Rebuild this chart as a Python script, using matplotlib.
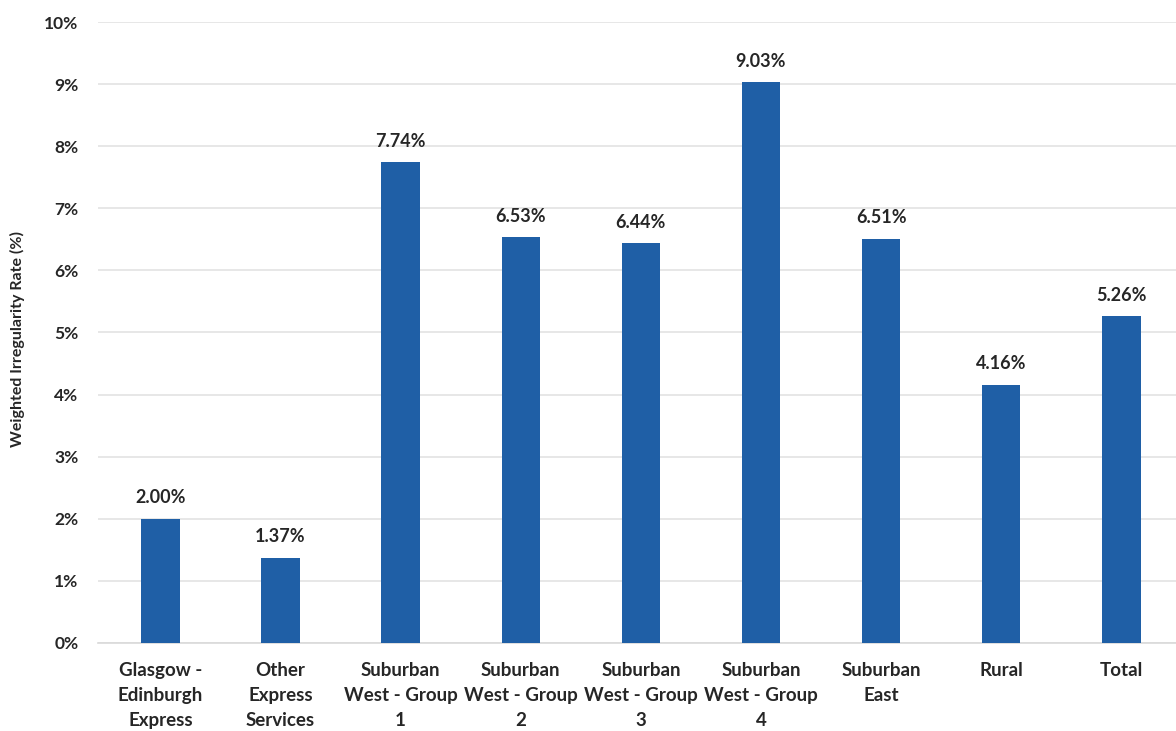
import matplotlib.pyplot as plt
from matplotlib.ticker import FuncFormatter

categories = [
    "Glasgow -\nEdinburgh\nExpress",
    "Other\nExpress\nServices",
    "Suburban\nWest - Group\n1",
    "Suburban\nWest - Group\n2",
    "Suburban\nWest - Group\n3",
    "Suburban\nWest - Group\n4",
    "Suburban\nEast",
    "Rural",
    "Total",
]
rates = [2.00, 1.37, 7.74, 6.53, 6.44, 9.03, 6.51, 4.16, 5.26]
yticks = list(range(0, 11))

plt.rcParams["font.family"] = ["Lato", "DejaVu Sans"]
plt.rcParams["font.weight"] = "bold"

fig = plt.figure(figsize=(11.76, 7.31), dpi=100)
ax = fig.add_axes([0.0833, 0.1204, 0.9167, 0.8495])

x = list(range(len(categories)))
bars = ax.bar(x, rates, width=0.32, color="#1f5fa6", zorder=3)

# value labels above each bar
for xi, v in zip(x, rates):
    ax.text(xi, v + 0.2, f"{v:.2f}%", ha="center", va="bottom",
            fontsize=13, fontweight="bold", color="#262626")

ax.set_xlim(-0.52, 8.455)
ax.set_ylim(0, 10)
ax.set_yticks(yticks)
ax.yaxis.set_major_formatter(FuncFormatter(lambda v, p: f"{int(v)}%"))
ax.set_xticks(x)
ax.set_xticklabels(categories, fontsize=13.5, fontweight="bold", color="#262626",
                   linespacing=1.55)
ax.tick_params(axis="y", labelsize=12.5, length=0, pad=14, labelcolor="#262626")
ax.tick_params(axis="x", length=0, pad=14)
for lab in ax.get_yticklabels():
    lab.set_fontweight("bold")

ax.grid(axis="y", color="#e3e3e3", linewidth=1.2, zorder=0)
for s in ["top", "right", "left"]:
    ax.spines[s].set_visible(False)
ax.spines["bottom"].set_color("#d9d9d9")
ax.spines["bottom"].set_linewidth(1.2)

ax.set_ylabel("Weighted Irregularity Rate (%)", fontsize=11.5, fontweight="bold",
              color="#262626")
ax.yaxis.set_label_coords(-0.068, 0.49)

fig.savefig("out.png", dpi=100)
